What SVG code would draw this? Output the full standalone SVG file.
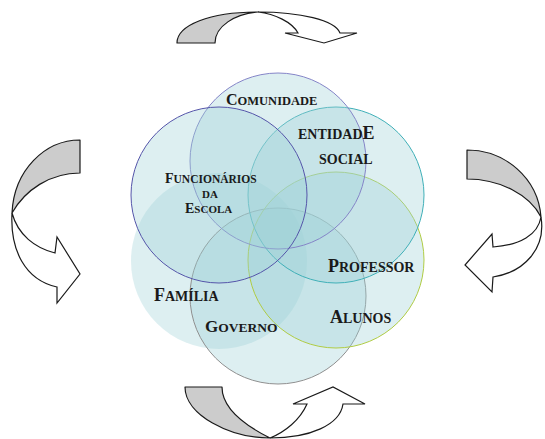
<svg xmlns="http://www.w3.org/2000/svg" width="545" height="439" viewBox="0 0 545 439">
<style>
.c{fill:#9fd0d8;fill-opacity:0.35;stroke-width:1}
.t{font-family:"Liberation Serif","Times New Roman",serif;font-weight:bold;fill:#1a1a1a}
.g{fill:#cccccc;stroke:#1a1a1a;stroke-width:1.2;stroke-linejoin:round}
.w{fill:#ffffff;stroke:#1a1a1a;stroke-width:1.2;stroke-linejoin:miter}
</style>
<rect width="545" height="439" fill="#ffffff"/>
<g id="familia"><circle class="c" cx="219" cy="261" r="88" stroke="none"/></g>
<g id="governo"><circle class="c" cx="278" cy="296" r="88" stroke="#909090"/></g>
<g id="professor"><circle class="c" cx="336" cy="260" r="88" stroke="#b0cc44"/></g>
<g id="entidade"><circle class="c" cx="336" cy="195" r="88" stroke="#40b0b8"/></g>
<g id="comunidade"><circle class="c" cx="278" cy="161" r="88" stroke="#8585c8"/></g>
<g id="funcionarios"><circle class="c" cx="219" cy="195" r="88" stroke="#5555aa"/></g>
<g id="labels">
<text class="t" x="226" y="105"><tspan font-size="16">C</tspan><tspan font-size="12.5">OMUNIDADE</tspan></text>
<text class="t" x="298" y="139"><tspan font-size="14">ENTIDAD</tspan><tspan font-size="18">E</tspan></text>
<text class="t" x="319" y="164" font-size="14">SOCIAL</text>
<text class="t" x="165" y="183"><tspan font-size="14">F</tspan><tspan font-size="11.5">UNCIONÁRIOS</tspan></text>
<text class="t" x="202" y="198" font-size="11">DA</text>
<text class="t" x="185" y="213"><tspan font-size="14">E</tspan><tspan font-size="11">SCOLA</tspan></text>
<text class="t" x="328" y="272"><tspan font-size="18">P</tspan><tspan font-size="14">ROFESSOR</tspan></text>
<text class="t" x="154" y="301"><tspan font-size="18">F</tspan><tspan font-size="14">AMÍLIA</tspan></text>
<text class="t" x="205" y="332"><tspan font-size="17">G</tspan><tspan font-size="13.5">OVERNO</tspan></text>
<text class="t" x="330" y="323"><tspan font-size="18">A</tspan><tspan font-size="14">LUNOS</tspan></text>
</g>
<g id="connectors">
<path class="g" d="M177,43 C177,25 210,12 258,12 C235,14 215,26 215,43 Z"/>
<path class="w" d="M258,12 C300,12 335,20 340,33 L357,33 L324,43 L285,33 L298,33 C292,22 275,14 258,12 Z"/>
<path class="g" d="M467,150 C505,150 538,178 541,217 C530,195 500,179 467,179 Z"/>
<path class="w" d="M541,217 C546,248 525,272 493,277 L492,292 L465,265 L492,234 L493,247 C520,245 538,235 541,217 Z"/>
<path class="g" d="M185,387 C185,415 230,438 270,438 C250,428 222,410 222,387 Z"/>
<path class="w" d="M270,438 C310,438 340,425 343,404 L365,404 L333,387 L293,404 L307,404 C300,420 285,432 270,438 Z"/>
<path class="g" d="M80,140 C45,140 14,170 12,213 C25,190 50,173 80,173 Z"/>
<path class="w" d="M12,213 C10,250 25,280 57,287 L57,303 L80,274 L57,237 L55,253 C35,248 18,235 12,213 Z"/>
</g>
</svg>
